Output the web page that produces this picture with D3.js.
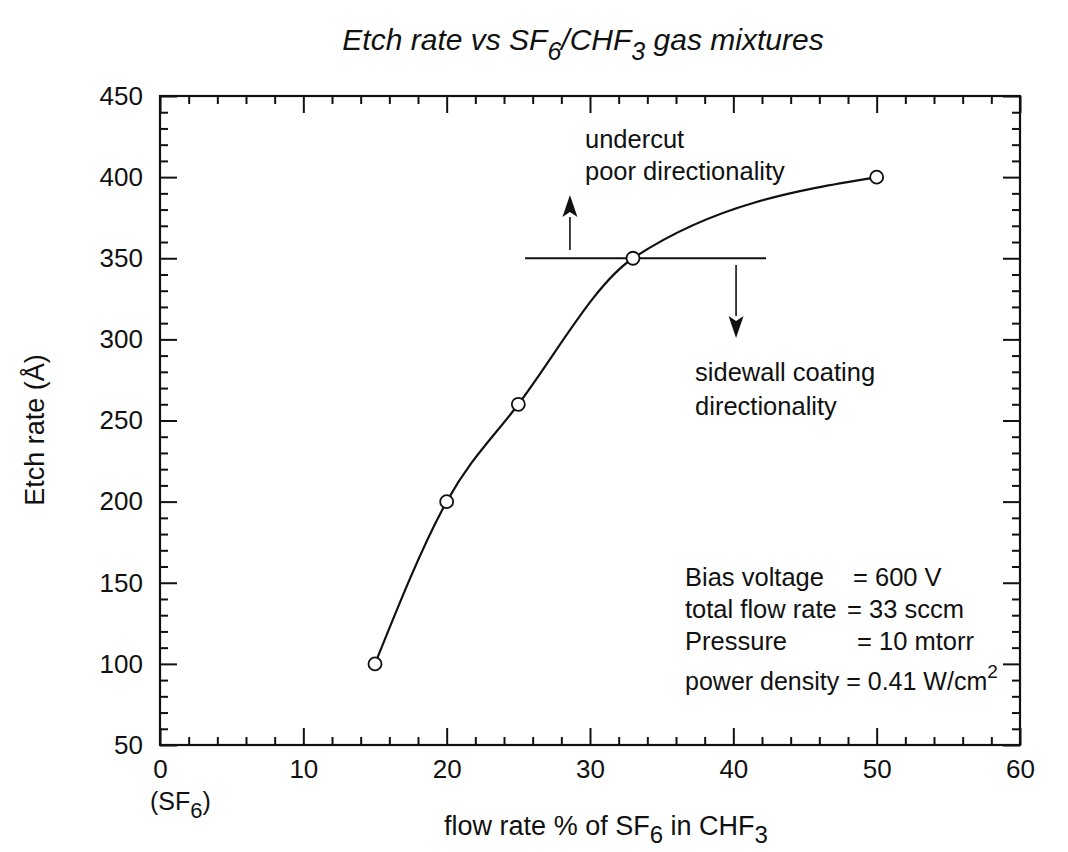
<!DOCTYPE html>
<html>
<head>
<meta charset="utf-8">
<script src="https://cdn.jsdelivr.net/npm/d3@7"></script>
<style>
  body { margin: 0; background: #fff; }
  svg text { font-family: "Liberation Sans", Arial, Helvetica, sans-serif; fill: #111; }
</style>
</head>
<body>
<svg id="chart" width="1068" height="852"></svg>
<script>
// Measured etch rate for each SF6 share of the SF6/CHF3 feed
const flowPct  = [15, 20, 25, 33, 50];
const etchRate = [100, 200, 260, 350, 400];

// Axis ticks
const xMajorTicks = [0, 10, 20, 30, 40, 50, 60];
const xMinorTicks = d3.range(0, 61, 2).filter(v => v % 10 !== 0);
const yMajorTicks = [50, 100, 150, 200, 250, 300, 350, 400, 450];
const yMinorTicks = d3.range(50, 451, 10).filter(v => v % 50 !== 0);

// Directionality threshold line and its span along the flow axis
const thresholdRate = 350;
const thresholdSpan = [25.47, 42.28];

// Process conditions shown in the corner block
const conditionNames  = ["Bias voltage", "total flow rate", "Pressure"];
const conditionValues = ["= 600 V", "= 33 sccm", "= 10 mtorr"];

const svg = d3.select("#chart");
const W = 1068, H = 852;
const plot = { left: 160, right: 1020, top: 96, bottom: 745 };

svg.append("rect").attr("width", W).attr("height", H).attr("fill", "#fff");

const x = d3.scaleLinear().domain([0, 60]).range([plot.left, plot.right]);
const y = d3.scaleLinear().domain([50, 450]).range([plot.bottom, plot.top]);

const INK = "#111";
const MAJOR = 17, MINOR = 8;

function styleAxis(g, withText) {
  g.select(".domain").remove();
  g.selectAll(".tick line").attr("stroke", INK).attr("stroke-width", 2);
  if (withText) {
    g.selectAll(".tick text")
      .attr("font-size", 26)
      .attr("font-family", "'Liberation Sans', Arial, sans-serif")
      .attr("fill", INK);
  } else {
    g.selectAll(".tick text").remove();
  }
}

// Bottom axis (labelled) and mirrored top axis, ticks pointing inward
svg.append("g").attr("transform", `translate(0,${plot.bottom})`)
  .call(d3.axisBottom(x).tickValues(xMajorTicks).tickSize(-MAJOR).tickPadding(15).tickFormat(d3.format("d")))
  .call(g => styleAxis(g, true));
svg.append("g").attr("transform", `translate(0,${plot.bottom})`)
  .call(d3.axisBottom(x).tickValues(xMinorTicks).tickSize(-MINOR))
  .call(g => styleAxis(g, false));
svg.append("g").attr("transform", `translate(0,${plot.top})`)
  .call(d3.axisTop(x).tickValues(xMajorTicks).tickSize(-MAJOR))
  .call(g => styleAxis(g, false));
svg.append("g").attr("transform", `translate(0,${plot.top})`)
  .call(d3.axisTop(x).tickValues(xMinorTicks).tickSize(-MINOR))
  .call(g => styleAxis(g, false));

// Left axis (labelled) and mirrored right axis
svg.append("g").attr("transform", `translate(${plot.left},0)`)
  .call(d3.axisLeft(y).tickValues(yMajorTicks).tickSize(-MAJOR).tickPadding(17).tickFormat(d3.format("d")))
  .call(g => styleAxis(g, true));
svg.append("g").attr("transform", `translate(${plot.left},0)`)
  .call(d3.axisLeft(y).tickValues(yMinorTicks).tickSize(-MINOR))
  .call(g => styleAxis(g, false));
svg.append("g").attr("transform", `translate(${plot.right},0)`)
  .call(d3.axisRight(y).tickValues(yMajorTicks).tickSize(-MAJOR))
  .call(g => styleAxis(g, false));
svg.append("g").attr("transform", `translate(${plot.right},0)`)
  .call(d3.axisRight(y).tickValues(yMinorTicks).tickSize(-MINOR))
  .call(g => styleAxis(g, false));

// Plot frame
svg.append("rect")
  .attr("x", plot.left).attr("y", plot.top)
  .attr("width", plot.right - plot.left).attr("height", plot.bottom - plot.top)
  .attr("fill", "none").attr("stroke", INK).attr("stroke-width", 2.2);

// Title
const title = svg.append("text")
  .attr("x", 583).attr("y", 50)
  .attr("text-anchor", "middle")
  .attr("font-size", 30).attr("font-style", "italic");
title.append("tspan").text("Etch rate vs SF");
title.append("tspan").attr("dy", 10).attr("font-size", 25).text("6");
title.append("tspan").attr("dy", -10).text("/CHF");
title.append("tspan").attr("dy", 10).attr("font-size", 25).text("3");
title.append("tspan").attr("dy", -10).text(" gas mixtures");

// Y axis title
svg.append("text")
  .attr("transform", `translate(44,430) rotate(-90)`)
  .attr("text-anchor", "middle")
  .attr("font-size", 27)
  .text("Etch rate (Å)");

// "(SF6)" marker under the zero tick
const sf = svg.append("text")
  .attr("x", x(0) - 10).attr("y", 810)
  .attr("font-size", 25);
sf.append("tspan").text("(SF");
sf.append("tspan").attr("dy", 8).attr("font-size", 22).text("6");
sf.append("tspan").attr("dy", -8).text(")");

// X axis title
const xt = svg.append("text")
  .attr("x", 606).attr("y", 835)
  .attr("text-anchor", "middle")
  .attr("font-size", 27);
xt.append("tspan").text("flow rate % of SF");
xt.append("tspan").attr("dy", 8).attr("font-size", 24).text("6");
xt.append("tspan").attr("dy", -8).text(" in CHF");
xt.append("tspan").attr("dy", 8).attr("font-size", 24).text("3");

// Smooth curve through the measurements
const pts = flowPct.map((f, i) => [f, etchRate[i]]);
const line = d3.line().x(d => x(d[0])).y(d => y(d[1])).curve(d3.curveMonotoneX);
svg.append("path")
  .attr("d", line(pts))
  .attr("fill", "none").attr("stroke", INK).attr("stroke-width", 2.2);

// Threshold line
svg.append("line")
  .attr("x1", x(thresholdSpan[0])).attr("x2", x(thresholdSpan[1]))
  .attr("y1", y(thresholdRate)).attr("y2", y(thresholdRate))
  .attr("stroke", INK).attr("stroke-width", 2);

// Arrows away from the threshold
function arrow(xv, fromV, toV) {
  const x0 = x(xv), y0 = y(fromV), y1 = y(toV);
  const dir = y1 < y0 ? -1 : 1;          // -1 points up, 1 points down
  const headLen = 22, halfW = 7.5;
  const base = y1 - dir * headLen;
  svg.append("line")
    .attr("x1", x0).attr("x2", x0).attr("y1", y0).attr("y2", base)
    .attr("stroke", INK).attr("stroke-width", 1.6);
  svg.append("path")
    .attr("d", `M${x0},${y1}L${x0 - halfW},${base}L${x0},${base + dir * 5}L${x0 + halfW},${base}Z`)
    .attr("fill", INK);
}
arrow(28.6, 355.1, 389);
arrow(40.19, 345.8, 300.8);

// Markers
svg.append("g").selectAll("circle")
  .data(pts)
  .join("circle")
  .attr("cx", d => x(d[0])).attr("cy", d => y(d[1]))
  .attr("r", 6.5)
  .attr("fill", "#fff").attr("stroke", INK).attr("stroke-width", 1.8);

// Region annotations
const upNote = svg.append("text").attr("font-size", 25.5);
upNote.append("tspan").attr("x", x(29.65)).attr("y", y(417.95)).text("undercut");
upNote.append("tspan").attr("x", x(29.65)).attr("y", y(398.2)).text("poor directionality");

const downNote = svg.append("text").attr("font-size", 25.5);
downNote.append("tspan").attr("x", x(37.33)).attr("y", y(274.3)).text("sidewall coating");
downNote.append("tspan").attr("x", x(37.33)).attr("y", y(253.4)).text("directionality");

// Process conditions block
const condRows = [148, 128.3, 108.5];
const eqCols = [48.35, 47.93, 48.63];
const cond = svg.append("g").attr("font-size", 25.5);
conditionNames.forEach((name, i) => {
  cond.append("text").attr("x", x(36.63)).attr("y", y(condRows[i])).text(name);
  cond.append("text").attr("x", x(eqCols[i])).attr("y", y(condRows[i])).text(conditionValues[i]);
});
const pd = cond.append("text").attr("x", x(36.63)).attr("y", y(83.8)).attr("font-size", 25);
pd.append("tspan").text("power density = 0.41 W/cm");
pd.append("tspan").attr("dy", -12).attr("font-size", 19).text("2");
</script>
</body>
</html>
